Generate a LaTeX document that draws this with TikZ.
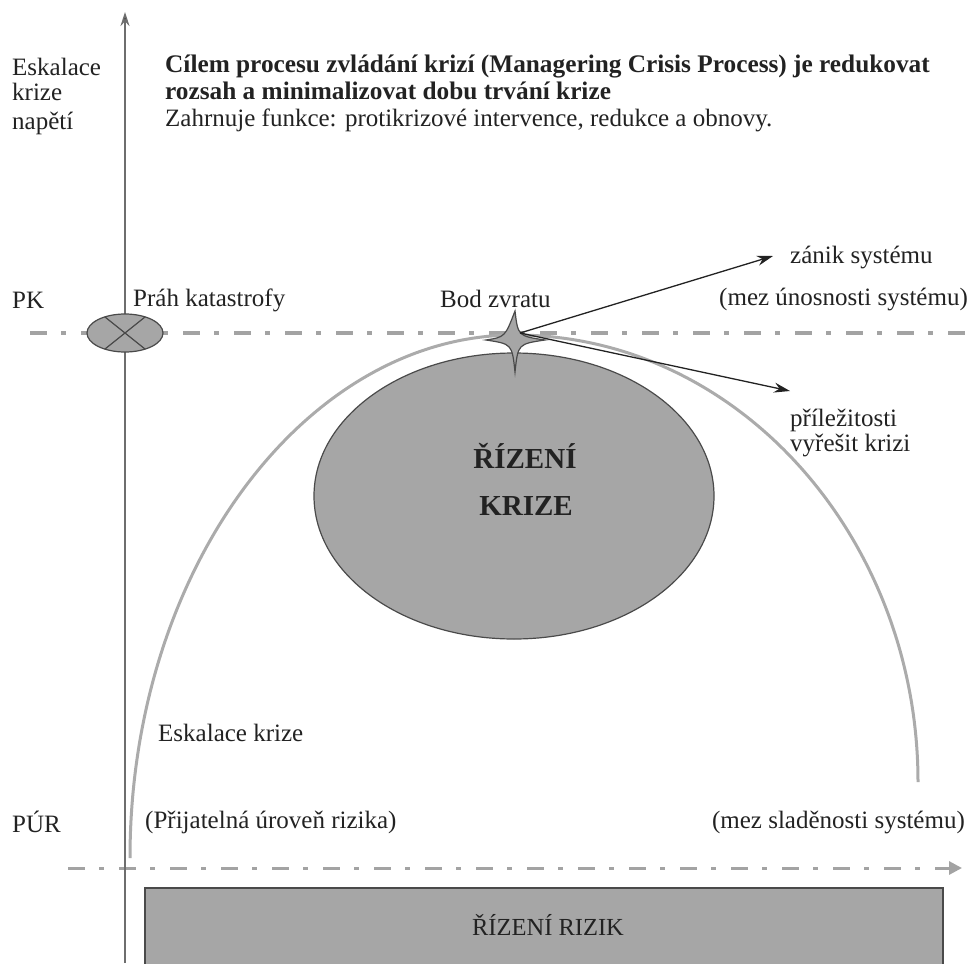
\documentclass[tikz,border=0pt]{standalone}
\usepackage{fontspec}
\setmainfont{Liberation Serif}
\usetikzlibrary{arrows.meta}
\definecolor{fillgray}{HTML}{A6A6A6}
\definecolor{arcgray}{HTML}{ABABAB}
\definecolor{dashgray}{HTML}{A3A3A3}
\definecolor{edgegray}{HTML}{4A4A4A}
\definecolor{txt}{HTML}{222222}
\definecolor{axisgray}{HTML}{6E6E6E}
\begin{document}
\begin{tikzpicture}[x=1pt,y=-1pt,
  lbl/.style={inner sep=0pt, anchor=west, font=\fontsize{25}{28}\selectfont, text=txt},
  lblr/.style={lbl, anchor=east},
  boldlbl/.style={lbl, font=\bfseries\fontsize{25.3}{28}\selectfont},
  bigbold/.style={inner sep=0pt, font=\bfseries\fontsize{29}{32}\selectfont, text=txt},
  dashdotline/.style={dashgray, line width=3.5pt, dash pattern=on 17pt off 14pt on 5pt off 15pt},
  arcline/.style={arcgray, line width=3pt},
  shapefill/.style={fill=fillgray, draw=edgegray, line width=1.2pt},
  arr/.style={draw=txt, line width=1.3pt, -{Stealth[length=16pt,width=10pt]}},
]
\useasboundingbox (0,0) rectangle (976,963);

% bottom rectangle
\draw[fill=fillgray, draw=edgegray, line width=2pt] (145,888) rectangle (943,975);
\node[inner sep=0pt, font=\fontsize{24.5}{28}\selectfont, text=txt] (rr) at (548,925) {ŘÍZENÍ RIZIK};

% dash-dot lines
\draw[dashdotline] (30,333) -- (976,333);
\draw[dashdotline, line width=3pt, -{Triangle[length=13pt,width=13pt,fill=dashgray]}] (68,868) -- (962,868);

% vertical axis
\coordinate (axb) at (125,963);
\coordinate (axt) at (125,12);
\draw[axisgray, line width=1.6pt, -{Stealth[length=14pt,width=9pt,fill=txt]}] (axb) -- (axt);

% big crisis arc
\draw[arcline] (130,858) .. controls (130,569) and (306,335) .. (515,335)
                .. controls (740,335) and (918,540) .. (918,782);

% crisis ellipse
\draw[shapefill] (514,496) ellipse [x radius=200pt, y radius=143pt];
\node[bigbold] (rk1) at (525,456) {ŘÍZENÍ};
\node[bigbold] (rk2) at (526,506) {KRIZE};

% PK ellipse with cross
\draw[shapefill] (125,333) ellipse [x radius=38pt, y radius=19pt];
\draw[edgegray, line width=1.2pt] (125,333) ++(58:38pt and 19pt) -- (125,333) -- ++(238:38pt and 19pt);
\draw[edgegray, line width=1.2pt] (125,333) ++(122:38pt and 19pt) -- (125,333) -- ++(302:38pt and 19pt);

% star (Bod zvratu)
\draw[shapefill] (486,340) .. controls (505,337) .. (515,311)
   .. controls (518,336) .. (545,340)
   .. controls (518,344) .. (515,372)
   .. controls (512,344) .. (486,340) -- cycle;

% arrows
\coordinate (st) at (520,333);
\coordinate (zan) at (773,256);
\coordinate (pri) at (790,391);
\draw[arr] (st) -- (zan);
\draw[arr] (st) -- (pri);

% texts
\node[lbl] (e1) at (12,67) {Eskalace};
\node[lbl] (e2) at (12,92) {krize};
\node[lbl] (e3) at (12,123) {napětí};
\node[boldlbl] (t1) at (165,67) {Cílem procesu zvládání krizí (Managering Crisis Process) je redukovat};
\node[boldlbl] (t2) at (165,91) {rozsah a minimalizovat dobu trvání krize};
\node[lbl] (t3) at (165,120) {Zahrnuje funkce: protikrizové intervence, redukce a obnovy.};

\node[lbl] (pk) at (12,300) {PK};
\node[lbl] (prah) at (133,300) {Práh katastrofy};
\node[lbl] (bod) at (440,299) {Bod zvratu};
\node[lbl] (zanik) at (790,258) {zánik systému};
\node[lblr] (mezu) at (968,300) {(mez únosnosti systému)};
\node[lbl] (pril) at (790,420) {příležitosti};
\node[lbl] (vyr) at (790,445) {vyřešit krizi};
\node[lbl] (esk) at (158,733) {Eskalace krize};
\node[lbl] (pur) at (12,822) {PÚR};
\node[lbl] (prij) at (145,822) {(Přijatelná úroveň rizika)};
\node[lblr] (mezs) at (965,822) {(mez sladěnosti systému)};
\end{tikzpicture}
\end{document}
